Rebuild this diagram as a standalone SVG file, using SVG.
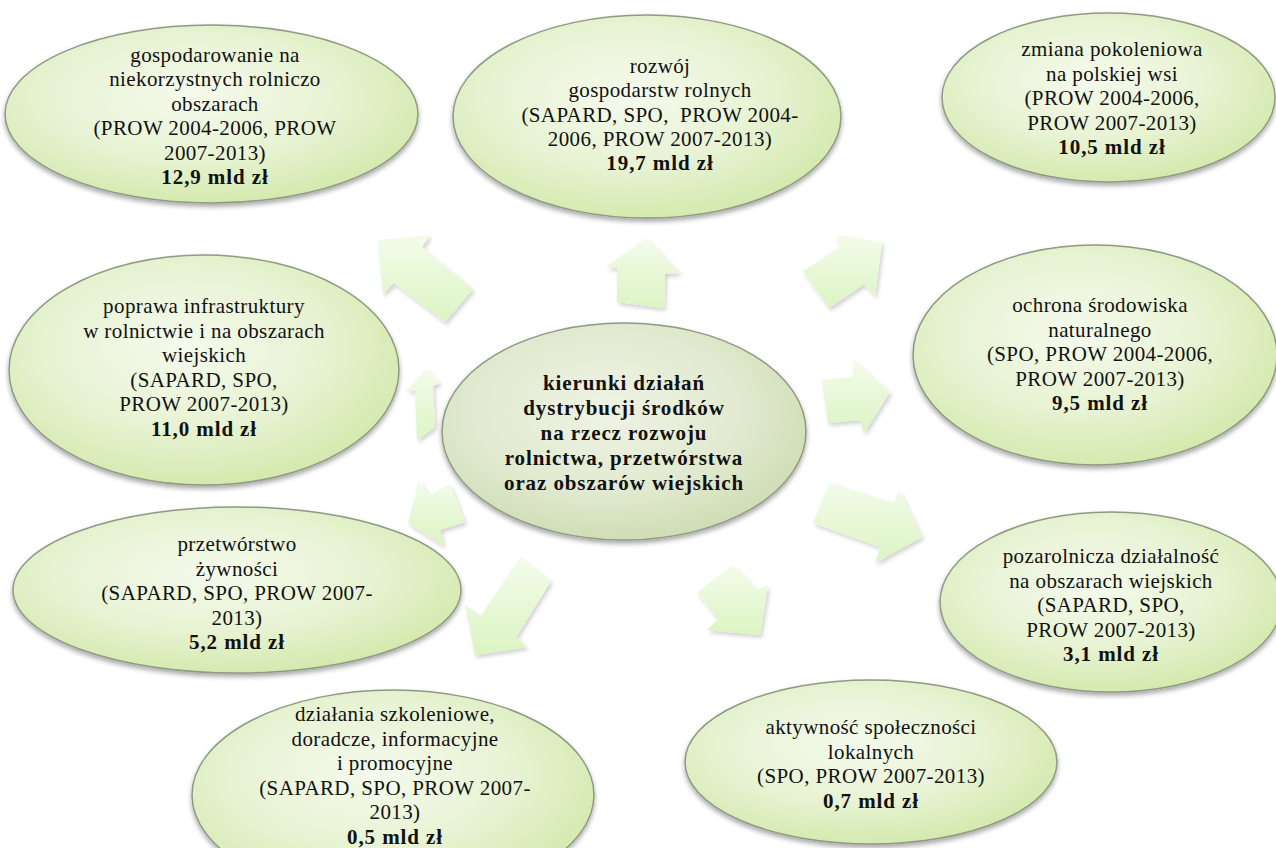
<svg xmlns="http://www.w3.org/2000/svg" width="1276" height="848" viewBox="0 0 1276 848">
<defs>
  <radialGradient id="gEll" cx="45%" cy="40%" r="62%">
    <stop offset="0" stop-color="#f5faec"/>
    <stop offset="0.55" stop-color="#e8f3d4"/>
    <stop offset="1" stop-color="#d3e9ac"/>
  </radialGradient>
  <radialGradient id="gCen" cx="45%" cy="40%" r="62%">
    <stop offset="0" stop-color="#eff3e4"/>
    <stop offset="0.6" stop-color="#e1ead0"/>
    <stop offset="1" stop-color="#cfdcb3"/>
  </radialGradient>
  <linearGradient id="gArr" x1="0" y1="0" x2="0" y2="1">
    <stop offset="0" stop-color="#f3fcea"/>
    <stop offset="1" stop-color="#dcf4c3"/>
  </linearGradient>
  <filter id="shE" x="-10%" y="-10%" width="120%" height="125%">
    <feGaussianBlur in="SourceAlpha" stdDeviation="2.5"/>
    <feOffset dx="0" dy="3" result="b"/>
    <feComponentTransfer><feFuncA type="linear" slope="0.35"/></feComponentTransfer>
    <feMerge><feMergeNode/><feMergeNode in="SourceGraphic"/></feMerge>
  </filter>
  <filter id="shA" x="-20%" y="-20%" width="150%" height="150%">
    <feGaussianBlur in="SourceAlpha" stdDeviation="2"/>
    <feOffset dx="2" dy="3" result="b"/>
    <feComponentTransfer><feFuncA type="linear" slope="0.18"/></feComponentTransfer>
    <feMerge><feMergeNode/><feMergeNode in="SourceGraphic"/></feMerge>
  </filter>
</defs>
<style>
  .ell { fill: url(#gEll); stroke: #8f9a84; stroke-width: 1.5; filter: url(#shE); }
  .cen { fill: url(#gCen); stroke: #8f9a84; stroke-width: 1.5; filter: url(#shE); }
  .arr { fill: url(#gArr); stroke: none; filter: url(#shA); }
  text { font-family: "Liberation Serif", "Times New Roman", serif; font-size: 21px; fill: #111; text-anchor: middle; letter-spacing: 0.4px; }
  .b { font-weight: bold; letter-spacing: 0.9px; }
</style>
<rect x="0" y="0" width="1276" height="848" fill="#ffffff"/>

<g id="connectors">
  <polygon class="arr" points="378,240 430,235 422,247 473,289 445,322 394,283 383,294"/>
  <polygon class="arr" points="646,238 680,273 665,274 664,308 617,302 617,268 606,267"/>
  <polygon class="arr" points="882,242 875,296 864,284 829,308 803,271 841,246 836,235"/>
  <polygon class="arr" points="890,392 864,433 860,420 828,423 822,380 853,377 854,360"/>
  <polygon class="arr" points="830,482 894,503 899,490 922,537 875,563 880,547 813,523"/>
  <polygon class="arr" points="733,565 757,590 768,585 760,635 707,630 718,619 697,592"/>
  <polygon class="arr" points="520,557 551,581 516,637 527,647 475,655 465,605 481,616"/>
  <polygon class="arr" points="408,523 419,480 428,495 450,485 465,522 440,530 444,546"/>
  <polygon class="arr" points="426,368 440,383 433,386 435,427 417,440 415,390 406,392"/>
</g>

<g id="node-gospodarowanie">
  <ellipse class="ell" cx="211.5" cy="114" rx="206.5" ry="89"/>
  <text x="215" y="62">gospodarowanie na</text>
  <text x="215" y="86.4">niekorzystnych rolniczo</text>
  <text x="215" y="110.8">obszarach</text>
  <text x="215" y="135.2">(PROW 2004-2006, PROW</text>
  <text x="215" y="159.6">2007-2013)</text>
  <text class="b" x="215" y="184">12,9 mld zł</text>
</g>

<g id="node-rozwoj">
  <ellipse class="ell" cx="647" cy="116.5" rx="194" ry="101.5"/>
  <text x="660" y="73">rozwój</text>
  <text x="660" y="97.3">gospodarstw rolnych</text>
  <text x="660" y="121.6" xml:space="preserve">(SAPARD, SPO,  PROW 2004-</text>
  <text x="660" y="145.9">2006, PROW 2007-2013)</text>
  <text class="b" x="660" y="170.2">19,7 mld zł</text>
</g>

<g id="node-zmiana">
  <ellipse class="ell" cx="1108.5" cy="97.5" rx="166.5" ry="84.5"/>
  <text x="1112" y="56">zmiana pokoleniowa</text>
  <text x="1112" y="80.6">na polskiej wsi</text>
  <text x="1112" y="105.2">(PROW 2004-2006,</text>
  <text x="1112" y="129.8">PROW 2007-2013)</text>
  <text class="b" x="1112" y="154.4">10,5 mld zł</text>
</g>

<g id="node-poprawa">
  <ellipse class="ell" cx="204" cy="370" rx="195" ry="115"/>
  <text x="204" y="313">poprawa infrastruktury</text>
  <text x="204" y="337.5">w rolnictwie i na obszarach</text>
  <text x="204" y="362">wiejskich</text>
  <text x="204" y="386.5">(SAPARD, SPO,</text>
  <text x="204" y="411">PROW 2007-2013)</text>
  <text class="b" x="204" y="435.5">11,0 mld zł</text>
</g>

<g id="node-center">
  <ellipse class="cen" cx="624" cy="431.5" rx="182" ry="108.5"/>
  <text class="b" x="624" y="390">kierunki działań</text>
  <text class="b" x="624" y="415">dystrybucji środków</text>
  <text class="b" x="624" y="440">na rzecz rozwoju</text>
  <text class="b" x="624" y="465">rolnictwa, przetwórstwa</text>
  <text class="b" x="624" y="490">oraz obszarów wiejskich</text>
</g>

<g id="node-ochrona">
  <ellipse class="ell" cx="1095" cy="355" rx="182" ry="110"/>
  <text x="1100" y="312">ochrona środowiska</text>
  <text x="1100" y="336.5">naturalnego</text>
  <text x="1100" y="361">(SPO, PROW 2004-2006,</text>
  <text x="1100" y="385.5">PROW 2007-2013)</text>
  <text class="b" x="1100" y="410">9,5 mld zł</text>
</g>

<g id="node-przetworstwo">
  <ellipse class="ell" cx="237" cy="590" rx="224" ry="83"/>
  <text x="237" y="551">przetwórstwo</text>
  <text x="237" y="575.5">żywności</text>
  <text x="237" y="600">(SAPARD, SPO, PROW 2007-</text>
  <text x="237" y="624.5">2013)</text>
  <text class="b" x="237" y="649">5,2 mld zł</text>
</g>

<g id="node-pozarolnicza">
  <ellipse class="ell" cx="1111" cy="602" rx="171" ry="90"/>
  <text x="1111" y="563">pozarolnicza działalność</text>
  <text x="1111" y="587.5">na obszarach wiejskich</text>
  <text x="1111" y="612">(SAPARD, SPO,</text>
  <text x="1111" y="636.5">PROW 2007-2013)</text>
  <text class="b" x="1111" y="661">3,1 mld zł</text>
</g>

<g id="node-aktywnosc">
  <ellipse class="ell" cx="871" cy="762" rx="186" ry="82"/>
  <text x="871" y="734">aktywność społeczności</text>
  <text x="871" y="758.5">lokalnych</text>
  <text x="871" y="783">(SPO, PROW 2007-2013)</text>
  <text class="b" x="871" y="807.5">0,7 mld zł</text>
</g>

<g id="node-dzialania">
  <ellipse class="ell" cx="393" cy="795" rx="201" ry="105"/>
  <text x="395" y="721">działania szkoleniowe,</text>
  <text x="395" y="745.5">doradcze, informacyjne</text>
  <text x="395" y="770">i promocyjne</text>
  <text x="395" y="794.5">(SAPARD, SPO, PROW 2007-</text>
  <text x="395" y="819">2013)</text>
  <text class="b" x="395" y="843.5">0,5 mld zł</text>
</g>
</svg>
